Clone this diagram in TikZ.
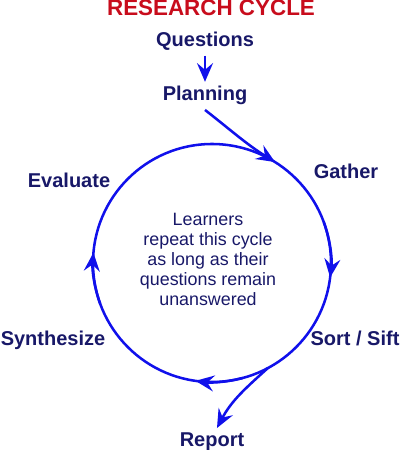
\documentclass[tikz,border=0pt]{standalone}
\usepackage{fontspec}
\setmainfont{Liberation Sans}
\usetikzlibrary{arrows.meta}
\definecolor{navy}{RGB}{24,24,104}
\definecolor{titlered}{RGB}{200,12,28}
\definecolor{cycblue}{RGB}{16,16,235}

\begin{document}
\begin{tikzpicture}[x=0.75pt,y=0.75pt,
		stage/.style={font=\fontsize{15}{18}\selectfont\bfseries,text=navy,anchor=base},
		cyc/.style={draw=cycblue,line width=1.9pt},
		arr/.style={-{Stealth[length=14pt,width=12pt,inset=5pt]}}]
		\useasboundingbox (0,0) rectangle (400,450);
		\node [font=\fontsize{16.8}{20}\selectfont\bfseries,text=titlered,anchor=base] (head) at (211,434) {RESEARCH CYCLE};
		\node [stage] (q) at (205,403) {Questions};
		\node [stage] (p) at (205,349) {Planning};
		\node [stage] (g) at (346,271) {Gather};
		\node [stage] (s) at (355,104) {Sort / Sift};
		\node [stage] (r) at (212,3.5) {Report};
		\node [stage] (y) at (53,104) {Synthesize};
		\node [stage] (e) at (69,262) {Evaluate};
		\node [text=navy,align=center,font=\fontsize{13.4}{15}\selectfont] (m) at (208,190.4)
			{Learners\\repeat this cycle\\as long as their\\questions remain\\unanswered};
		\coordinate (c) at (212,187);
		\path (c) ++(58:119) coordinate (pin);
		\path (c) ++(-62:119) coordinate (out);
		\draw [cyc] (c) circle (119);
		\draw [cyc,arr] (c) ++(20:119) arc[start angle=20,end angle=-7,radius=119];
		\draw [cyc,arr] (c) ++(-75:119) arc[start angle=-75,end angle=-98,radius=119];
		\draw [cyc,arr] (c) ++(-160:119) arc[start angle=-160,end angle=-185,radius=119];
		\draw [cyc,arr] (q) -- (p);
		\draw [cyc,arr] (p.south) to[out=-38,in=148] (pin);
		\draw [cyc,arr] (out) to[out=222,in=62] (r.70);
\end{tikzpicture}
\end{document}
